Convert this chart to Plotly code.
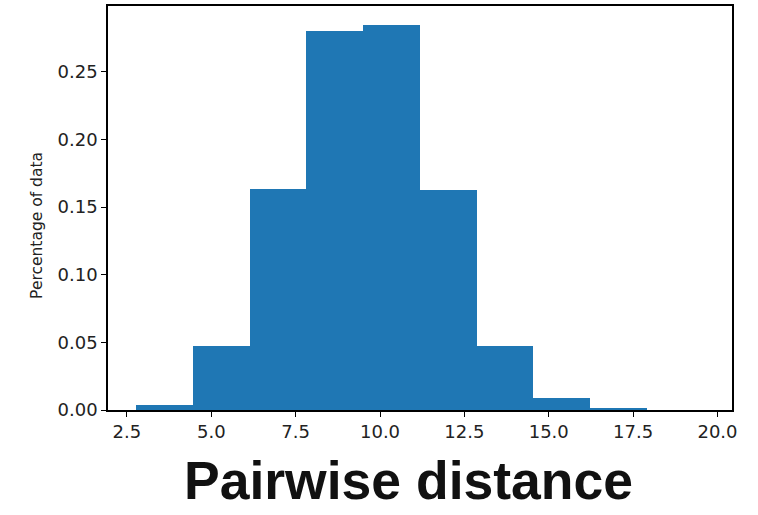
import plotly.graph_objects as go

# Histogram of pairwise distances (normalised so bars sum to 1)
bin_edges = [2.78, 4.46, 6.14, 7.82, 9.50, 11.18, 12.86, 14.54, 16.22, 17.90, 19.59]
fractions = [0.0036, 0.0475, 0.1635, 0.2805, 0.2845, 0.1630, 0.0475, 0.0089, 0.0010, 0.0]
x_ticks = [2.5, 5.0, 7.5, 10.0, 12.5, 15.0, 17.5, 20.0]
y_ticks = [0.00, 0.05, 0.10, 0.15, 0.20, 0.25]

centers = [(a + b) / 2 for a, b in zip(bin_edges[:-1], bin_edges[1:])]
widths = [b - a for a, b in zip(bin_edges[:-1], bin_edges[1:])]

span = bin_edges[-1] - bin_edges[0]
x_range = [bin_edges[0] - 0.05 * span, bin_edges[-1] + 0.05 * span]
y_range = [0, max(fractions) * 1.05]

fig = go.Figure(
    go.Bar(
        x=centers,
        y=fractions,
        width=widths,
        marker=dict(color="#1f77b4", line=dict(width=0)),
    )
)

axis_common = dict(
    showgrid=False,
    zeroline=False,
    showline=True,
    linecolor="black",
    linewidth=1.5,
    mirror=True,
    ticks="outside",
    ticklen=5,
    tickwidth=1.3,
    tickcolor="black",
    tickfont=dict(family="DejaVu Sans", size=18, color="#222222"),
)

fig.update_xaxes(
    range=x_range,
    tickvals=x_ticks,
    ticktext=[f"{v:.1f}" for v in x_ticks],
    **axis_common,
)
fig.update_yaxes(
    range=y_range,
    tickvals=y_ticks,
    ticktext=[f"{v:.2f}" for v in y_ticks],
    **axis_common,
)

# y-axis label
fig.add_annotation(
    text="Percentage of data",
    xref="paper",
    yref="paper",
    x=(37 - 108) / 624,
    y=(410 - 225) / 406,
    xanchor="center",
    yanchor="middle",
    textangle=-90,
    showarrow=False,
    font=dict(family="DejaVu Sans", size=15.5, color="#222222"),
)

# x-axis label
fig.add_annotation(
    text="<b>Pairwise distance</b>",
    xref="paper",
    yref="paper",
    x=(408 - 108) / 624,
    y=(410 - 480.5) / 406,
    xanchor="center",
    yanchor="middle",
    showarrow=False,
    font=dict(family="Liberation Sans", size=53.5, color="#111111"),
)

fig.update_layout(
    width=758,
    height=515,
    margin=dict(l=108, r=26, t=4, b=105),
    paper_bgcolor="white",
    plot_bgcolor="white",
    bargap=0,
    showlegend=False,
)

fig.write_html("out.html")
